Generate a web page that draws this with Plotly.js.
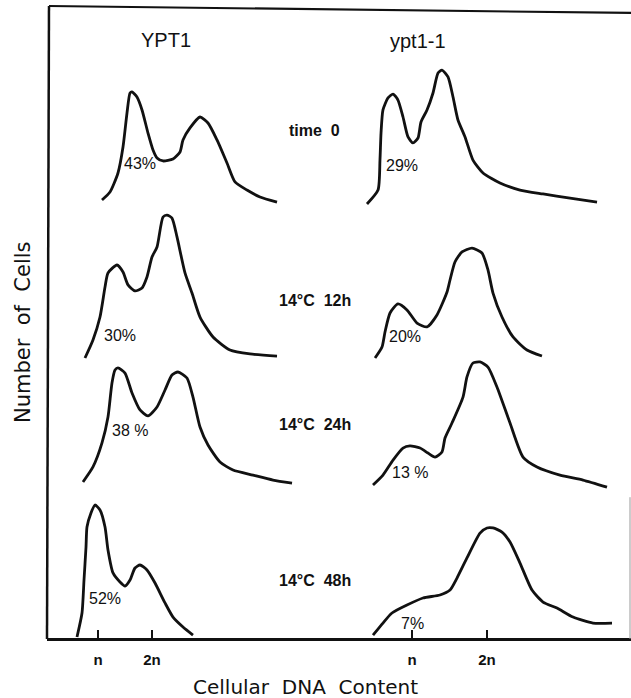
<!DOCTYPE html>
<html>
<head>
<meta charset="utf-8">
<script src="https://cdn.plot.ly/plotly-3.0.1.min.js"></script>
<style>html,body{margin:0;padding:0;background:#fff}#chart{width:631px;height:698px}</style>
</head>
<body>
<div id="chart"></div>
<script>
// ---- tick labels / categories ----
const tickValues = [1, 2];
const tickLabels = ['n', '2n'];
const strains = ['YPT1', 'ypt1-1'];
const conditions = ['time  0', '14°C  12h', '14°C  24h', '14°C  48h'];
const pctYPT1 = ['43%', '30%', '38 %', '52%'];
const pctMut = ['29%', '20%', '13 %', '7%'];

// ---- DNA content (n units) and cell counts, YPT1 ----
const wt0_x = [1.074,1.222,1.370,1.463,1.537,1.593,1.630,1.722,1.815,1.926,2.019,2.093,2.204,2.389,2.519,2.574,2.704,2.889,3.037,3.204,3.389,3.537,3.759,4.000,4.315];
const wt0_y = [2.7,8.0,20.7,38.0,60.7,74.0,74.7,71.3,62.7,47.3,36.0,30.7,28.7,30.0,34.7,42.7,50.7,58.0,54.0,42.7,27.3,14.7,9.3,4.7,1.3];
const wt12_x = [0.759,0.907,1.037,1.130,1.185,1.352,1.463,1.556,1.685,1.815,1.907,2.000,2.093,2.204,2.278,2.370,2.463,2.611,2.741,2.889,3.130,3.444,3.815,4.315];
const wt12_y = [0,12.0,27.3,47.3,56.7,62.0,57.3,48.7,44.7,46.7,54.0,67.3,74.0,94.0,95.3,93.3,80.7,56.7,43.3,27.3,14.0,5.3,2.7,1.3];
const wt24_x = [0.722,0.907,1.074,1.185,1.259,1.315,1.370,1.500,1.630,1.778,1.926,2.093,2.241,2.370,2.481,2.648,2.759,2.889,3.037,3.259,3.500,3.870,4.241,4.593];
const wt24_y = [2.7,12.7,28.7,46.0,68.7,77.3,78.7,75.3,62.0,50.7,46.7,52.7,64.0,74.0,76.0,72.0,59.3,39.3,27.3,16.0,10.7,7.3,4.0,2.0];
const wt48_x = [0.611,0.704,0.741,0.778,0.796,0.870,0.944,1.037,1.130,1.185,1.278,1.407,1.500,1.593,1.685,1.778,1.907,2.056,2.241,2.389,2.574,2.759];
const wt48_y = [0,16.0,38.0,60.0,73.3,82.7,88.0,84.7,73.3,58.0,42.7,36.7,34.0,38.0,46.0,48.0,44.7,36.0,22.7,13.3,6.7,1.3];

// ---- DNA content (n units) and cell counts, ypt1-1 ----
const mt0_x = [0.400,0.547,0.573,0.587,0.613,0.680,0.747,0.813,0.880,0.947,1.013,1.080,1.120,1.200,1.280,1.347,1.400,1.480,1.547,1.613,1.707,1.813,1.947,2.173,2.440,2.747,3.107,3.467];
const mt0_y = [0,9.3,29.3,47.3,62.7,70.7,73.3,69.3,58.0,44.7,40.7,44.0,54.7,62.7,74.0,87.3,89.3,84.7,71.3,56.0,44.7,29.3,20.7,14.0,9.3,6.7,4.0,1.3];
const mt12_x = [0.507,0.600,0.640,0.707,0.813,0.933,1.067,1.200,1.333,1.467,1.507,1.573,1.667,1.800,1.933,2.013,2.080,2.200,2.347,2.533,2.733];
const mt12_y = [0,7.3,17.3,30.0,36.0,32.0,23.3,20.7,28.7,44.0,52.0,64.0,70.7,73.3,70.0,58.7,43.3,27.3,14.0,5.3,1.3];
const mt24_x = [0.480,0.613,0.747,0.880,0.973,1.107,1.213,1.307,1.400,1.440,1.533,1.680,1.733,1.813,1.907,2.013,2.133,2.307,2.480,2.667,2.973,3.280,3.600];
const mt24_y = [0.7,7.3,17.3,25.3,26.7,25.3,22.0,19.3,22.7,32.0,42.0,59.3,72.7,82.0,82.7,79.3,66.0,42.0,19.3,12.7,7.3,4.0,-0.7];
const mt48_x = [0.480,0.613,0.733,0.933,1.147,1.373,1.507,1.600,1.733,1.907,2.000,2.080,2.200,2.307,2.440,2.600,2.747,2.933,3.147,3.413,3.667];
const mt48_y = [1.3,9.3,16.0,21.3,26.0,28.0,31.3,39.3,52.7,69.3,72.7,72.7,70.0,63.3,49.3,31.3,23.3,19.3,13.3,9.3,9.3];

const wtX = [wt0_x, wt12_x, wt24_x, wt48_x];
const wtY = [wt0_y, wt12_y, wt24_y, wt48_y];
const mtX = [mt0_x, mt12_x, mt24_x, mt48_x];
const mtY = [mt0_y, mt12_y, mt24_y, mt48_y];

const INK = '#111';
const FONT = 'Liberation Sans, Arial, sans-serif';
const yNames = ['y', 'y2', 'y3', 'y4'];
const traces = [];
for (let r = 0; r < 4; r++) {
  traces.push({x: wtX[r], y: wtY[r], xaxis: 'x', yaxis: yNames[r], mode: 'lines',
    line: {color: INK, width: 2.8, shape: 'spline', smoothing: 0.6}, hoverinfo: 'skip'});
  traces.push({x: mtX[r], y: mtY[r], xaxis: 'x2', yaxis: yNames[r], mode: 'lines',
    line: {color: INK, width: 2.8, shape: 'spline', smoothing: 0.6}, hoverinfo: 'skip'});
}

const xCommon = {
  anchor: 'free', position: 0, showline: true, linecolor: INK, linewidth: 2.5,
  showgrid: false, zeroline: false, ticks: 'inside', ticklen: 8, tickwidth: 2, tickcolor: INK,
  tickvals: tickValues, ticktext: tickLabels, ticklabelstandoff: 6,
  tickfont: {family: FONT, size: 15, color: INK, weight: 'bold'}, fixedrange: true
};
const yCommon = {visible: false, fixedrange: true, anchor: 'x'};

const rowDomains = [[0.6682, 0.9242], [0.4250, 0.6809], [0.2227, 0.4787], [0, 0.2401]];
const rowRanges = [[-8, 100], [-8, 100], [-8, 100], [-1.333, 100]];

const annotations = [];
const pctPosWT = [[1.778, 27.3], [1.407, 14.7], [1.593, 36.7], [1.13, 26]];
const pctPosMT = [[0.867, 26], [0.907, 14], [0.973, 8.7], [1.013, 8.7]];
const ann = (o) => Object.assign({showarrow: false, xanchor: 'center', yanchor: 'middle'}, o);
for (let r = 0; r < 4; r++) {
  annotations.push(ann({xref: 'x', yref: yNames[r], x: pctPosWT[r][0], y: pctPosWT[r][1], text: pctYPT1[r],
    font: {family: FONT, size: 16, color: INK}}));
  annotations.push(ann({xref: 'x2', yref: yNames[r], x: pctPosMT[r][0], y: pctPosMT[r][1], text: pctMut[r],
    font: {family: FONT, size: 16, color: INK}}));
}
const condY = [0.8041, 0.5355, 0.3381, 0.0932];
for (let r = 0; r < 4; r++) {
  annotations.push(ann({xref: 'paper', yref: 'paper', x: 0.4589, y: condY[r], text: conditions[r],
    font: {family: FONT, size: 16, color: INK, weight: 'bold'}}));
}
annotations.push(ann({xref: 'paper', yref: 'paper', x: 0.2038, y: 0.9463, text: strains[0],
  font: {family: FONT, size: 20, color: INK}}));
annotations.push(ann({xref: 'paper', yref: 'paper', x: 0.6353, y: 0.9450, text: strains[1],
  font: {family: FONT, size: 20, color: INK}}));
annotations.push(ann({xref: 'paper', yref: 'paper', x: 0.4418, y: -0.0758, text: 'Cellular  DNA  Content',
  font: {family: 'DejaVu Sans, sans-serif', size: 20, color: INK}}));
annotations.push(ann({xref: 'paper', yref: 'paper', x: -0.0411, y: 0.485, text: 'Number  of  Cells',
  textangle: -90, font: {family: 'DejaVu Sans, sans-serif', size: 21, color: INK}}));

const layout = {
  width: 631, height: 698,
  margin: {l: 47, r: 0, t: 6, b: 59},
  paper_bgcolor: '#fff', plot_bgcolor: 'rgba(0,0,0,0)',
  showlegend: false, hovermode: false,
  xaxis: Object.assign({}, xCommon, {domain: [0, 0.5], range: [0.0556, 5.463]}),
  xaxis2: Object.assign({}, xCommon, {domain: [0.5, 1], range: [0.0267, 3.92]}),
  yaxis: Object.assign({}, yCommon, {domain: rowDomains[0], range: rowRanges[0]}),
  yaxis2: Object.assign({}, yCommon, {domain: rowDomains[1], range: rowRanges[1]}),
  yaxis3: Object.assign({}, yCommon, {domain: rowDomains[2], range: rowRanges[2]}),
  yaxis4: Object.assign({}, yCommon, {domain: rowDomains[3], range: rowRanges[3]}),
  annotations: annotations,
  shapes: [
    {type: 'line', xref: 'paper', yref: 'paper', x0: 0, y0: 0, x1: 0.0034, y1: 1, line: {color: INK, width: 2.5}},
    {type: 'line', xref: 'paper', yref: 'paper', x0: 0.0034, y0: 1, x1: 1, y1: 0.989, line: {color: INK, width: 2.2}},
    {type: 'line', xref: 'paper', yref: 'paper', x0: 0.9983, y0: 0, x1: 0.9983, y1: 0.224, line: {color: '#999', width: 1}}
  ]
};

Plotly.newPlot('chart', traces, layout, {displayModeBar: false, staticPlot: true});
</script>
</body>
</html>
